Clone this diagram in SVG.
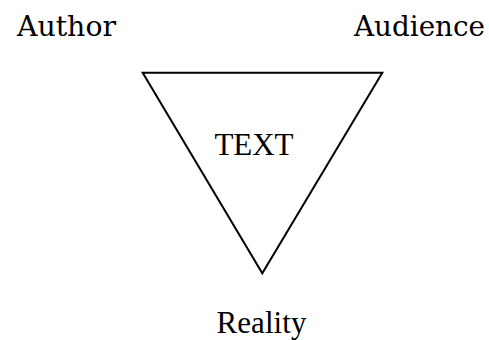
<svg xmlns="http://www.w3.org/2000/svg" width="489" height="340" viewBox="0 0 489 340">
<style>
.t{font-family:"Liberation Serif","Times New Roman",serif;font-size:31px;fill:#000}
.p{font-family:"DejaVu Serif","Liberation Serif",serif;font-size:28px;fill:#000}
.shape{fill:#fff;stroke:#000;stroke-width:2;stroke-linejoin:miter}
</style>
<rect width="489" height="340" fill="#fff"/>
<g id="author"><text class="p" x="17" y="36" textLength="99" lengthAdjust="spacingAndGlyphs">Author</text></g>
<g id="audience"><text class="p" x="354" y="36" textLength="131" lengthAdjust="spacingAndGlyphs">Audience</text></g>
<g id="text-triangle">
<polygon class="shape" points="142.7,72.7 382.3,72.7 262.3,273.3"/>
<text class="t" x="214.5" y="155" textLength="79" lengthAdjust="spacing">TEXT</text>
</g>
<g id="reality"><text class="t" x="216.5" y="333" textLength="90" lengthAdjust="spacing">Reality</text></g>
<g id="connectors"></g>
</svg>
